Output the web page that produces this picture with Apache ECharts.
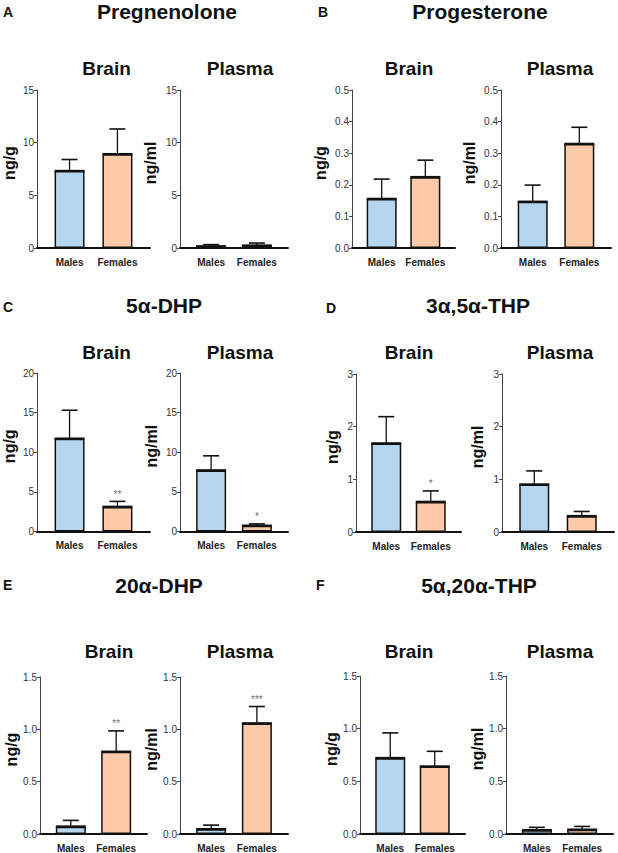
<!DOCTYPE html>
<html>
<head>
<meta charset="utf-8">
<script src="https://cdn.jsdelivr.net/npm/echarts@6/dist/echarts.min.js"></script>
<style>
html,body{margin:0;padding:0;background:#fff;}
#chart{width:618px;height:853px;}
</style>
</head>
<body>
<div id="chart"></div>
<script>
// ---- data ----
const categories = ['Males', 'Females'];
const panelLetters = ['A', 'B', 'C', 'D', 'E', 'F'];
const compounds = ['Pregnenolone', 'Progesterone', '5α-DHP', '3α,5α-THP', '20α-DHP', '5α,20α-THP'];
const tissues = ['Brain', 'Plasma'];
const unitBrain = 'ng/g';
const unitPlasma = 'ng/ml';

const brainMeans  = [[7.3, 8.9], [0.155, 0.224], [11.7, 3.1], [1.68, 0.57], [0.07, 0.785], [0.72, 0.64]];
const brainErr    = [[1.1, 2.4], [0.063, 0.054], [3.6, 0.7], [0.51, 0.21], [0.06, 0.2], [0.24, 0.145]];
const plasmaMeans = [[0.15, 0.22], [0.146, 0.329], [7.7, 0.72], [0.90, 0.30], [0.045, 1.056], [0.035, 0.04]];
const plasmaErr   = [[0.17, 0.25], [0.053, 0.053], [1.85, 0.24], [0.26, 0.09], [0.04, 0.162], [0.028, 0.032]];
const brainStars  = [['', ''], ['', ''], ['', '**'], ['', '*'], ['', '**'], ['', '']];
const plasmaStars = [['', ''], ['', ''], ['', '*'], ['', ''], ['', '***'], ['', '']];

const yMax      = [15, 0.5, 20, 3, 1.5, 1.5];
const yInterval = [5, 0.1, 5, 1, 0.5, 0.5];
const yDecimals = [0, 1, 0, 0, 1, 1];

// ---- layout (positions / styles) ----
const COLORS = ['#b6d6ef', '#fdcaa9'];
const gridBrain = [
  [35, 90, 115, 158], [352, 90, 103, 158],
  [35, 373, 115, 158.5], [356, 374, 105, 158],
  [40, 677, 107, 158], [360, 676, 105, 158.5]
];
const gridPlasma = [
  [180, 90, 108, 158], [501, 90, 110, 158],
  [180, 373, 108, 158.5], [502, 374, 112, 158],
  [180, 677, 108, 158], [506, 676, 107, 158.5]
];
const nameGapBrain  = [20, 24, 20, 16, 4, 15];
const nameGapPlasma = [22, 24, 21, 17, 17, 16];
const letterPos   = [[3, 12], [318, 12], [3, 307], [326, 308], [3, 585], [316, 585]];
const compoundPos = [[167, 11], [480, 11], [164, 305], [478, 305], [159, 585], [479, 585]];
const subPosBrain  = [[106.5, 68], [409, 68], [106.5, 352], [409, 352], [109, 651], [409, 651]];
const subPosPlasma = [[240, 68], [560, 68], [240, 352], [560, 352], [240, 651], [560, 651]];

const XMIN = 0.32, XMAX = 2.68, BARW = 30;
const FONT = '"Liberation Sans", Arial, Helvetica, sans-serif';
const NARROW = '"Liberation Sans Narrow", "Arial Narrow", "Liberation Sans", sans-serif';

const grids = [], xAxes = [], yAxes = [], series = [], graphics = [];

function addPanel(p, box, means, errs, stars, unit, nameGap) {
  const idx = grids.length;
  grids.push({left: box[0], top: box[1], width: box[2], height: box[3], containLabel: false});
  xAxes.push({
    gridIndex: idx, type: 'value', min: XMIN, max: XMAX,
    axisLine: {show: true, onZero: false, lineStyle: {color: '#111', width: 2}},
    axisTick: {show: false},
    splitLine: {show: false},
    axisLabel: {
      customValues: [1, 2],
      formatter: v => categories[Math.round(v) - 1] || '',
      fontFamily: FONT, fontWeight: 'bold', fontSize: 10, color: '#222', margin: 9
    }
  });
  const dec = yDecimals[p];
  yAxes.push({
    gridIndex: idx, type: 'value', min: 0, max: yMax[p], interval: yInterval[p],
    name: unit, nameLocation: 'middle', nameGap: nameGap,
    nameTextStyle: {fontFamily: FONT, fontWeight: 'bold', fontSize: 16, color: '#111', padding: [0, 0, 0, 12]},
    axisLine: {show: true, lineStyle: {color: '#444', width: 1}},
    axisTick: {show: true, length: 3, lineStyle: {color: '#444', width: 1}},
    splitLine: {show: false},
    axisLabel: {
      formatter: v => v.toFixed(dec),
      fontFamily: NARROW, fontSize: 10, color: '#333', margin: 3
    }
  });
  series.push({
    type: 'bar', xAxisIndex: idx, yAxisIndex: idx, barWidth: BARW,
    data: means.map((m, i) => ({value: [i + 1, m], itemStyle: {color: COLORS[i]}})),
    itemStyle: {borderColor: '#111', borderWidth: 1.5},
    silent: true, animation: false
  });
  series.push({
    type: 'custom', xAxisIndex: idx, yAxisIndex: idx, silent: true, animation: false,
    itemStyle: {color: '#111'},
    data: means.map((m, i) => [i + 1, m, errs[i]]),
    renderItem: function (params, api) {
      const x = api.value(0), m = api.value(1), e = api.value(2);
      const p0 = api.coord([x, m]);
      const p1 = api.coord([x, m + e]);
      return {type: 'group', children: [
        {type: 'line', shape: {x1: p0[0], y1: p0[1], x2: p1[0], y2: p1[1]}, style: {stroke: '#111', lineWidth: 1.3}},
        {type: 'line', shape: {x1: p1[0] - 8, y1: p1[1], x2: p1[0] + 8, y2: p1[1]}, style: {stroke: '#111', lineWidth: 1.6}},
        {type: 'line', shape: {x1: p0[0] - BARW / 2, y1: p0[1], x2: p0[0] + BARW / 2, y2: p0[1]}, style: {stroke: '#111', lineWidth: 2.6}}
      ]};
    }
  });
  const starData = [];
  means.forEach((m, i) => { if (stars[i]) starData.push({value: [i + 1, m + errs[i]], name: stars[i]}); });
  if (starData.length) {
    series.push({
      type: 'scatter', xAxisIndex: idx, yAxisIndex: idx, silent: true, animation: false,
      symbol: 'circle', symbolSize: 0.01, itemStyle: {color: 'rgba(0,0,0,0)'},
      data: starData,
      label: {show: true, position: 'top', distance: 2, formatter: d => d.name,
        fontFamily: NARROW, fontSize: 10, color: '#444'}
    });
  }
}

for (let p = 0; p < 6; p++) {
  addPanel(p, gridBrain[p], brainMeans[p], brainErr[p], brainStars[p], unitBrain, nameGapBrain[p]);
  addPanel(p, gridPlasma[p], plasmaMeans[p], plasmaErr[p], plasmaStars[p], unitPlasma, nameGapPlasma[p]);
  graphics.push({type: 'text', x: letterPos[p][0], y: letterPos[p][1], style: {
    text: panelLetters[p], fontFamily: FONT, fontWeight: 'bold', fontSize: 14, fill: '#111',
    align: 'left', verticalAlign: 'middle'}});
  graphics.push({type: 'text', x: compoundPos[p][0], y: compoundPos[p][1], style: {
    text: compounds[p], fontFamily: FONT, fontWeight: 'bold', fontSize: 21, fill: '#111',
    align: 'center', verticalAlign: 'middle'}});
  graphics.push({type: 'text', x: subPosBrain[p][0], y: subPosBrain[p][1], style: {
    text: tissues[0], fontFamily: FONT, fontWeight: 'bold', fontSize: 19, fill: '#111',
    align: 'center', verticalAlign: 'middle'}});
  graphics.push({type: 'text', x: subPosPlasma[p][0], y: subPosPlasma[p][1], style: {
    text: tissues[1], fontFamily: FONT, fontWeight: 'bold', fontSize: 19, fill: '#111',
    align: 'center', verticalAlign: 'middle'}});
}

const chart = echarts.init(document.getElementById('chart'), null, {renderer: 'svg'});
chart.setOption({
  backgroundColor: '#fff',
  animation: false,
  grid: grids, xAxis: xAxes, yAxis: yAxes, series: series,
  graphic: graphics
});
</script>
</body>
</html>
